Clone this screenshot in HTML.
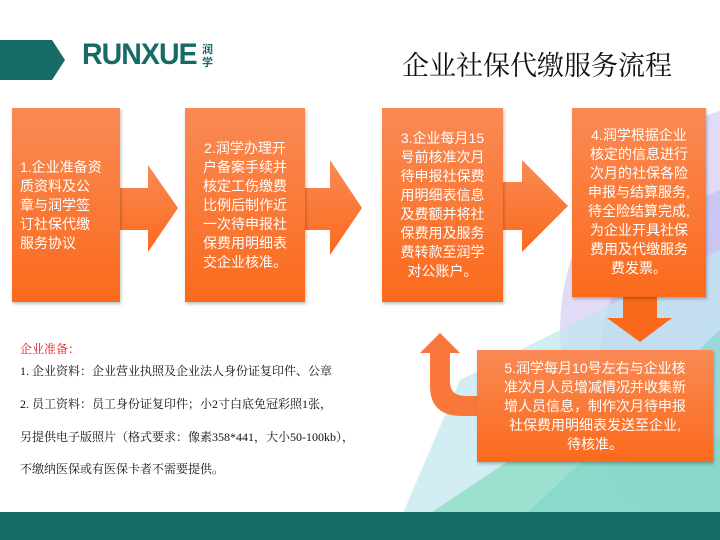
<!DOCTYPE html>
<html><head><meta charset="utf-8"><style>
body{margin:0;width:720px;height:540px;position:relative;overflow:hidden;background:#fff;font-family:"Liberation Sans","Noto Sans CJK SC",sans-serif}
.box{position:absolute;background:linear-gradient(#f98a55,#fb6a1c);color:#fff;display:flex;align-items:center;justify-content:center;text-align:center;font-size:14px;line-height:19px;box-shadow:1px 2px 3px rgba(0,0,0,.25)}
.t{position:absolute;left:20px;font-family:"Liberation Serif","Noto Serif CJK SC",serif;font-size:12px;color:#111;white-space:nowrap}
</style></head><body>
<svg width="720" height="540" style="position:absolute;left:0;top:0">
<defs><linearGradient id="g" x1="0" y1="0" x2="0" y2="1"><stop offset="0" stop-color="#f98a55"/><stop offset="1" stop-color="#fb6a1c"/></linearGradient></defs>
<circle cx="790" cy="330" r="230" fill="#d9d2f6" opacity=".8"/>
<circle cx="780" cy="360" r="180" fill="#b6b4ee" opacity=".5"/>
<path d="M460 380 L720 250 L720 520 L400 520Z" fill="#bfe7f0" opacity=".7"/>
<path d="M420 520 L600 400 L720 440 L720 520Z" fill="#8fdcc6" opacity=".8"/>
<path d="M520 520 L720 330 L720 520Z" fill="#7fd3c8" opacity=".6"/>
<rect x="0" y="512" width="720" height="28" fill="#166b66"/>
<path d="M0 40 L52 40 L65 60 L52 80 L0 80Z" fill="#166b66"/>
<path d="M120 188 L148 188 L148 165 L178 208 L148 252 L148 230 L120 230Z" fill="url(#g)"/>
<path d="M305 188 L330 188 L330 160 L362 208 L330 255 L330 230 L305 230Z" fill="url(#g)"/>
<path d="M503 182 L522 182 L522 160 L568 206 L522 252 L522 230 L503 230Z" fill="url(#g)"/>
<path d="M623 297 L657 297 L657 318 L672 318 L640 342 L607 318 L623 318Z" fill="#fb6a1c"/>
<path d="M478 396 L462 396 Q430 396 430 366 L430 333 L420 333 L440 313 L460 333 L450 333 L450 362 Q450 376 466 376 L478 376Z" fill="#f9773a" transform="translate(0,20)"/>
</svg>
<div style="position:absolute;left:82px;top:38px;font-size:30px;font-weight:bold;color:#166b66;letter-spacing:-1px;transform:scaleX(.95);transform-origin:left">RUNXUE</div>
<div style="position:absolute;left:202px;top:44px;font-size:11px;line-height:13px;color:#166b66;width:12px;font-weight:bold">润学</div>
<div style="position:absolute;left:402px;top:44px;font-size:27px;color:#111;font-family:'Liberation Serif','Noto Serif CJK SC',serif;white-space:nowrap">企业社保代缴服务流程</div>
<div class="box" style="left:12px;top:108px;width:108px;height:194px;text-align:left;justify-content:flex-start;padding-left:8px;box-sizing:border-box">1.企业准备资<br>质资料及公<br>章与润学签<br>订社保代缴<br>服务协议</div>
<div class="box" style="left:185px;top:108px;width:120px;height:194px">2.润学办理开<br>户备案手续并<br>核定工伤缴费<br>比例后制作近<br>一次待申报社<br>保费用明细表<br>交企业核准。</div>
<div class="box" style="left:382px;top:108px;width:121px;height:194px">3.企业每月15<br>号前核准次月<br>待申报社保费<br>用明细表信息<br>及费额并将社<br>保费用及服务<br>费转款至润学<br>对公账户。</div>
<div class="box" style="left:572px;top:108px;width:134px;height:189px;align-items:flex-start;padding-top:18px;box-sizing:border-box">4.润学根据企业<br>核定的信息进行<br>次月的社保各险<br>申报与结算服务,<br>待全险结算完成,<br>为企业开具社保<br>费用及代缴服务<br>费发票。</div>
<div class="box" style="left:477px;top:350px;width:236px;height:112px">5.润学每月10号左右与企业核<br>准次月人员增减情况并收集新<br>增人员信息，制作次月待申报<br>社保费用明细表发送至企业,<br>待核准。</div>
<div class="t" style="top:340px;color:#e8141b">企业准备：</div>
<div class="t" style="top:362px">1. 企业资料：企业营业执照及企业法人身份证复印件、公章</div>
<div class="t" style="top:395px">2. 员工资料：员工身份证复印件；小2寸白底免冠彩照1张，</div>
<div class="t" style="top:428px">另提供电子版照片（格式要求：像素358*441，大小50-100kb），</div>
<div class="t" style="top:460px">不缴纳医保或有医保卡者不需要提供。</div>
</body></html>
